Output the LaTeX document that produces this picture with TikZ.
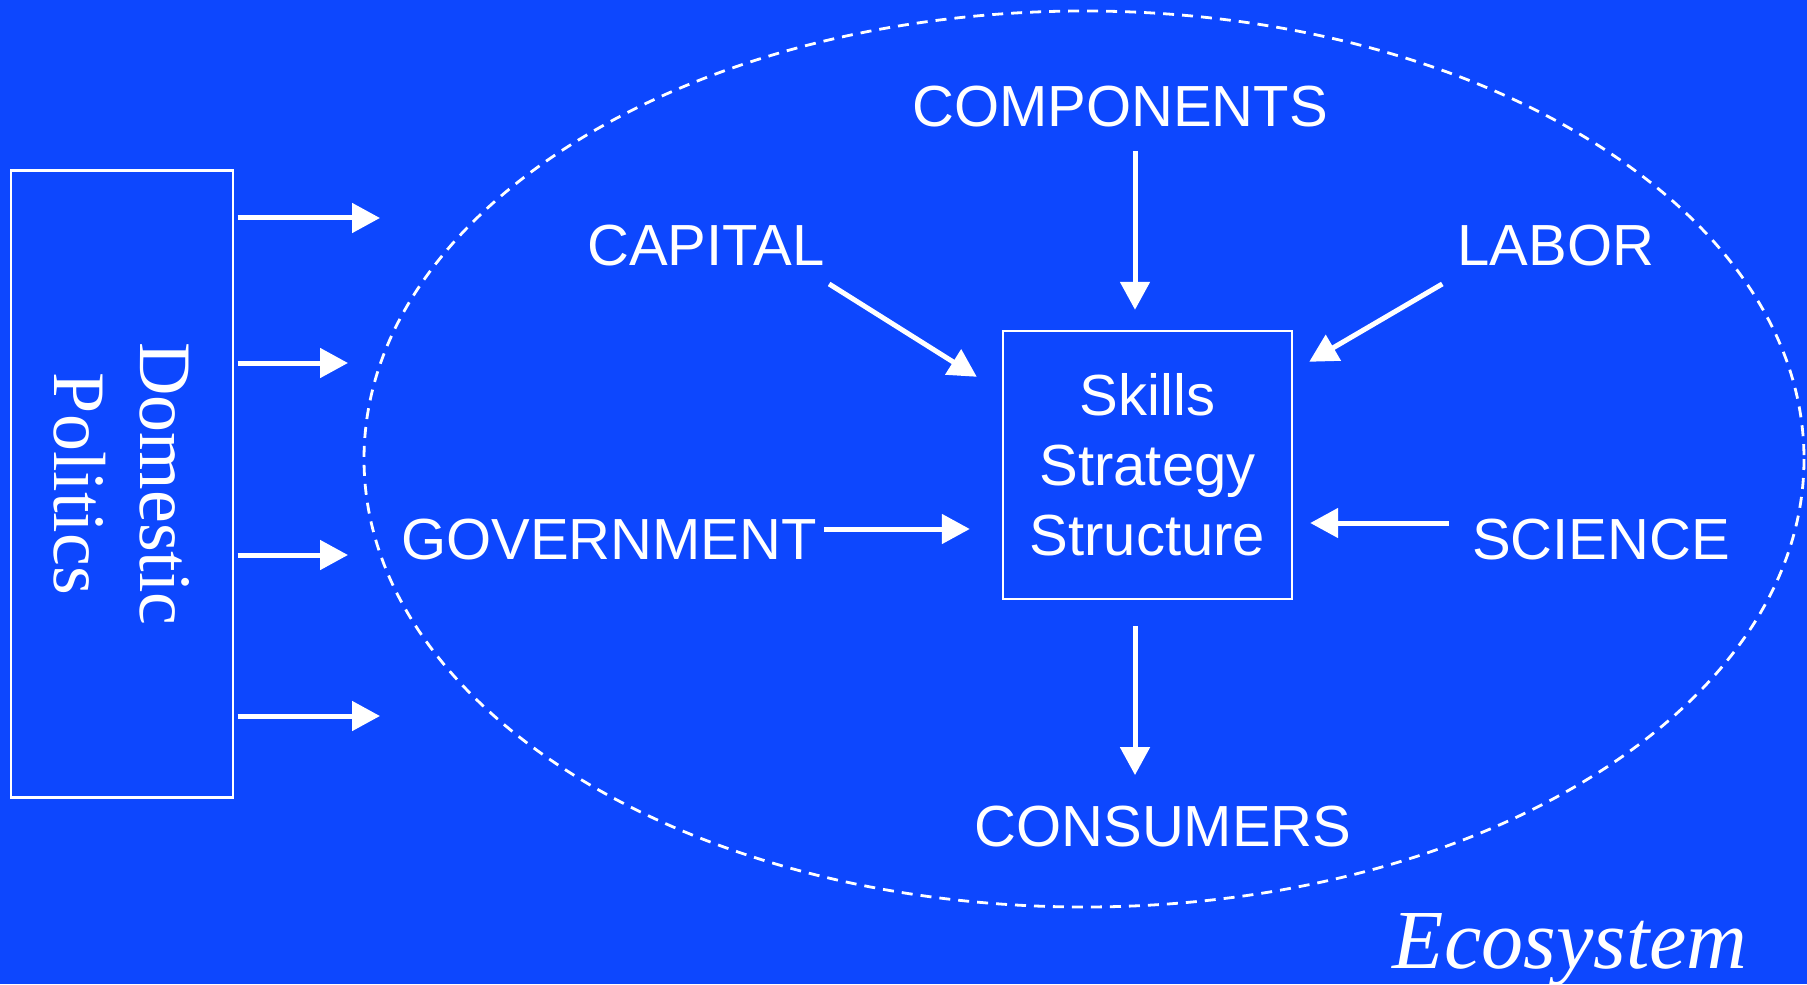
\documentclass[tikz,border=0pt]{standalone}
\usepackage{fontspec}
\setmainfont{Liberation Serif}
\newfontfamily\arialfont{Liberation Sans}
\usepackage{tikz}
\usetikzlibrary{positioning,arrows.meta}
\definecolor{bgblue}{RGB}{13,71,254}

\begin{document}
\begin{tikzpicture}[x=0.5pt,y=-0.5pt,
        >={Triangle[length=14pt,width=14.5pt]},
        arr/.style={->,draw=white,line width=2.5pt},
        lbl/.style={text=white,inner sep=0pt,anchor=base,font=\arialfont\fontsize{29}{35}\selectfont},
        frame/.style={draw=white,line width=1.2pt,text=white}]
        \useasboundingbox (0,0) rectangle (1807,984);
        \fill[bgblue] (0,0) rectangle (1807,984);

        % ecosystem
        \draw[white,line width=1.4pt,dash pattern=on 5.5pt off 4pt] (1084,459) ellipse [x radius=720, y radius=448];
        \node[text=white,anchor=base,font=\itshape\fontsize{42}{50}\selectfont] (eco) at (1570,968) {Ecosystem};

        % left box
        \node[frame,rotate=-90,minimum width=313.5pt,minimum height=110.75pt,align=center,
              font=\fontsize{37}{43}\selectfont] (politics) at (122,484) {Domestic\\Politics};

        % centre box
        \node[frame,minimum width=144.5pt,minimum height=134pt,align=center,
              font=\arialfont\fontsize{29}{35}\selectfont] (core) at (1147.5,465) {Skills\\Strategy\\Structure};

        % labels
        \node[lbl] (components) at (1120,127) {COMPONENTS};
        \node[lbl] (capital)    at (706,265)  {CAPITAL};
        \node[lbl] (labor)      at (1556,265) {LABOR};
        \node[lbl] (government) at (609,559)  {GOVERNMENT};
        \node[lbl] (science)    at (1601,559) {SCIENCE};
        \node[lbl] (consumers)  at (1163,846) {CONSUMERS};

        \draw[arr] ([shift={(15,23)}]components.south) -- ([shift={(-12.5,-20)}]core.north);
        \draw[arr] ([shift={(4,18)}]capital.south east) -- ([shift={(-25,47)}]core.north west);
        \draw[arr] ([shift={(-15,18)}]labor.south west) -- ([shift={(16,32)}]core.north east);
        \draw[arr] ([shift={(7,-30)}]government.base east) -- ([shift={(-32,64)}]core.west);
        \draw[arr] ([shift={(-23,-36)}]science.base west) -- ([shift={(17,58)}]core.east);
        \draw[arr] ([shift={(-12.5,26)}]core.south) -- ([shift={(-28,-30)}]consumers.north);

        % politics feeds the ecosystem
        \foreach \n/\y/\x in {1/218/380, 2/363/348, 3/555/348, 4/716/380} {
            \coordinate (t\n) at (\x,\y);
            \draw[arr,shorten <=1.8pt] (politics.north |- t\n) -- (t\n);
        }
    \end{tikzpicture}
\end{document}
